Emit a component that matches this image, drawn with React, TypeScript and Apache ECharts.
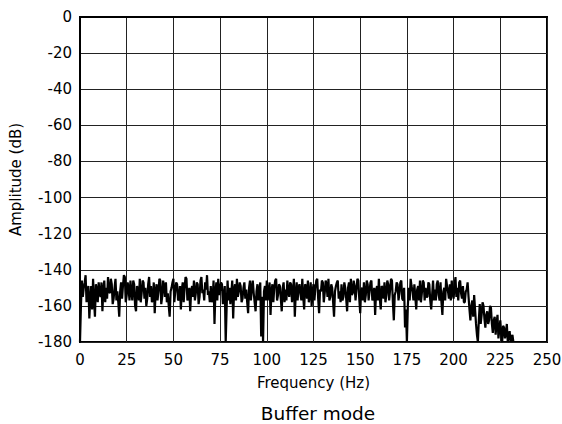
import React, { useEffect, useRef } from "react";
import * as echarts from "echarts";

// Amplitude (dB) read at whole-Hz points: 0, 1, 2, ... 232 Hz
const wholeHzAmplitudes: number[] = [
  -180, -146, -150, -143, -152, -167, -149, -145, -166, -151,
  -147, -155, -163, -146, -150, -144, -153, -148, -156, -145,
  -152, -166, -147, -149, -144, -154, -150, -146, -157, -148,
  -163, -151, -145, -153, -147, -150, -156, -144, -149, -155,
  -164, -148, -152, -146, -155, -149, -147, -153, -166, -150,
  -145, -152, -148, -156, -162, -147, -150, -145, -154, -163,
  -149, -146, -153, -148, -155, -144, -151, -147, -143, -152,
  -149, -156, -170, -147, -145, -151, -148, -155, -180, -146,
  -150, -153, -167, -148, -145, -152, -149, -156, -147, -151,
  -164, -146, -150, -153, -163, -148, -152, -177, -180, -149,
  -146, -152, -165, -148, -150, -145, -154, -149, -163, -147,
  -151, -146, -155, -148, -152, -166, -147, -150, -153, -145,
  -162, -149, -146, -154, -160, -148, -150, -145, -164, -152,
  -147, -153, -148, -145, -155, -150, -166, -149, -146, -152,
  -148, -155, -150, -163, -147, -145, -153, -149, -151, -146,
  -164, -150, -147, -154, -148, -152, -146, -155, -165, -149,
  -145, -162, -150, -147, -154, -148, -151, -146, -168, -152,
  -148, -153, -146, -157, -172, -180, -150, -145, -152, -148,
  -162, -149, -146, -153, -147, -150, -155, -148, -162, -146,
  -151, -148, -154, -147, -165, -150, -145, -152, -148, -146,
  -156, -144, -150, -147, -153, -149, -158, -151, -155, -168,
  -157, -154, -170, -180, -159, -165, -160, -172, -163, -168,
  -161, -175, -166, -170, -178, -168, -180, -172, -175, -180,
  -174, -178, -180,
];
// Amplitude (dB) read at half-Hz points: 0.5, 1.5, ... 231.5 Hz
const halfHzAmplitudes: number[] = [
  -160, -155, -147, -158, -149, -156, -162, -157, -148, -158,
  -153, -147, -151, -158, -156, -152, -145, -159, -150, -157,
  -158, -152, -156, -143, -158, -147, -157, -152, -146, -160,
  -149, -157, -158, -146, -156, -160, -148, -155, -158, -147,
  -152, -157, -145, -159, -146, -155, -158, -160, -152, -147,
  -158, -147, -157, -149, -151, -158, -144, -157, -150, -152,
  -155, -157, -147, -159, -146, -153, -157, -151, -154, -158,
  -158, -146, -152, -157, -154, -147, -159, -149, -161, -157,
  -159, -146, -151, -157, -155, -147, -158, -150, -156, -158,
  -150, -157, -146, -158, -152, -157, -147, -155, -152, -157,
  -157, -147, -152, -158, -146, -157, -148, -156, -150, -158,
  -157, -152, -147, -158, -145, -153, -157, -148, -157, -155,
  -148, -156, -158, -147, -152, -157, -146, -156, -151, -146,
  -158, -146, -155, -157, -148, -158, -152, -147, -156, -158,
  -157, -147, -156, -150, -158, -154, -146, -157, -145, -156,
  -151, -157, -158, -146, -157, -147, -157, -150, -152, -157,
  -156, -149, -156, -158, -146, -157, -145, -158, -154, -147,
  -157, -147, -156, -150, -162, -160, -157, -149, -157, -155,
  -151, -157, -158, -146, -157, -155, -147, -157, -154, -157,
  -157, -146, -157, -158, -152, -157, -149, -156, -157, -153,
  -149, -155, -157, -146, -156, -158, -152, -147, -162, -160,
  -166, -162, -176, -168, -170, -158, -167, -165, -170, -160,
  -170, -168, -176, -165, -173, -176, -171, -178, -170, -176,
  -180, -176,
];
const xTicks = [0, 25, 50, 75, 100, 125, 150, 175, 200, 225, 250];
const yTicks = [0, -20, -40, -60, -80, -100, -120, -140, -160, -180];

export default function App() {
  const ref = useRef<HTMLDivElement>(null);
  useEffect(() => {
    if (!ref.current) return;
    const chart = echarts.init(ref.current, null, { renderer: "svg" });
    const data: number[][] = [];
    wholeHzAmplitudes.forEach((v, i) => {
      data.push([i, v]);
      if (i < halfHzAmplitudes.length) data.push([i + 0.5, halfHzAmplitudes[i]]);
    });
    const font = "DejaVu Sans, Verdana, sans-serif";
    chart.setOption({
      animation: false,
      backgroundColor: "#fff",
      title: {
        text: "Buffer mode",
        left: 313,
        textAlign: "center",
        top: 399,
        textStyle: { fontFamily: font, fontSize: 18.5, fontWeight: "normal", color: "#000" },
      },
      grid: {
        left: 80,
        right: 15,
        top: 17,
        bottom: 82,
        containLabel: false,
        outerBoundsMode: "none",
        show: true,
        borderColor: "#000",
        borderWidth: 2,
      },
      xAxis: {
        type: "value",
        min: xTicks[0],
        max: xTicks[xTicks.length - 1],
        interval: 25,
        name: "Frequency (Hz)",
        nameLocation: "middle",
        nameGap: 33,
        nameTextStyle: { fontFamily: font, fontSize: 15, color: "#000" },
        axisLine: { show: true, lineStyle: { color: "#000", width: 2 } },
        axisTick: { show: false },
        axisLabel: { fontFamily: font, fontSize: 15, color: "#000", margin: 10 },
        splitLine: { show: true, lineStyle: { color: "#222", width: 1 } },
      },
      yAxis: {
        type: "value",
        min: yTicks[yTicks.length - 1],
        max: yTicks[0],
        interval: 20,
        name: "Amplitude (dB)",
        nameLocation: "middle",
        nameGap: 57,
        nameTextStyle: { fontFamily: font, fontSize: 15, color: "#000" },
        axisLine: { show: true, lineStyle: { color: "#000", width: 2 } },
        axisTick: { show: false },
        axisLabel: { fontFamily: font, fontSize: 15, color: "#000", margin: 8 },
        splitLine: { show: true, lineStyle: { color: "#222", width: 1 } },
      },
      series: [
        {
          type: "line",
          data,
          showSymbol: false,
          symbol: "none",
          lineStyle: { color: "#000", width: 2.2 },
          clip: true,
        },
      ],
    });
    return () => chart.dispose();
  }, []);
  return (
    <div
      ref={ref}
      style={{ position: "absolute", left: 0, top: 0, width: 562, height: 424 }}
    />
  );
}
